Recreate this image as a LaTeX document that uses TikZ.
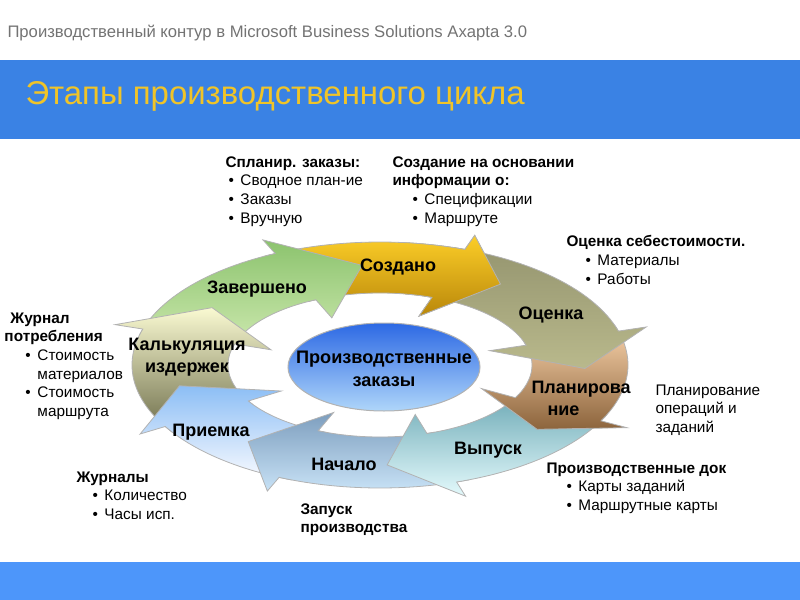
\documentclass[tikz,border=0pt]{standalone}
\usepackage{fontspec}
\setmainfont{Liberation Sans}

\definecolor{bandtop}{RGB}{58,130,228}
\definecolor{bandbot}{RGB}{77,150,250}
\definecolor{headgray}{RGB}{115,115,115}
\definecolor{titlegold}{RGB}{240,196,40}
\definecolor{rimgray}{RGB}{178,178,178}
\definecolor{zavtop}{RGB}{140,195,110}
\definecolor{zavbot}{RGB}{205,233,175}
\definecolor{sozdtop}{RGB}{252,206,40}
\definecolor{sozdbot}{RGB}{185,135,10}
\definecolor{ocentop}{RGB}{150,150,112}
\definecolor{ocenmid}{RGB}{246,246,214}
\definecolor{ocenbot}{RGB}{185,185,140}
\definecolor{plantop}{RGB}{250,212,172}
\definecolor{planbot}{RGB}{140,100,60}
\definecolor{vyptop}{RGB}{110,170,182}
\definecolor{vypbot}{RGB}{228,250,252}
\definecolor{nachtop}{RGB}{125,158,190}
\definecolor{nachbot}{RGB}{200,226,246}
\definecolor{priemtop}{RGB}{140,190,245}
\definecolor{priembot}{RGB}{248,250,255}
\definecolor{kalktop}{RGB}{250,250,210}
\definecolor{kalkbot}{RGB}{110,110,75}
\definecolor{ordtop}{RGB}{45,105,228}
\definecolor{ordbot}{RGB}{175,214,250}

\tikzset{every picture/.style={line width=0.75pt}}

% one curved arrow of the ring: tail angle, head base angle, tip angle, shading
% ring centre (380,365), inner ellipse 152 x 72, outer ellipse 248 x 123
\newcommand{\swoosh}[4]{%
  \shadedraw[draw=rimgray,line width=0.6pt,#4]
    plot[domain=#1:#2,samples=30,variable=\t] ({380+248*cos(\t)},{365-123*sin(\t)})
    -- ({380+277*cos(#2)},{365-138*sin(#2)})
    -- ({380+205*cos(#3)},{365-100*sin(#3)})
    -- ({380+114*cos(#2)},{365-52*sin(#2)})
    -- plot[domain=#2:#1,samples=30,variable=\t] ({380+152*cos(\t)},{365-72*sin(\t)})
    -- cycle;}
% bullet item with indent
\newcommand{\itm}[2]{\hspace*{#1}\makebox[9pt][l]{•}#2}

\begin{document}
\begin{tikzpicture}[x=0.75pt,y=0.75pt,yscale=-1,xscale=1,
  seglbl/.style={font=\fontsize{13.5pt}{16.5pt}\selectfont\bfseries,align=center,inner sep=0pt},
  ordlbl/.style={font=\fontsize{13.6pt}{17pt}\selectfont\bfseries,align=center,inner sep=0pt},
  sidetxt/.style={font=\fontsize{11.5pt}{14pt}\selectfont,align=left,anchor=north west,inner sep=0pt}]
\useasboundingbox (0,0) rectangle (800,600);

%Shape: Rectangle [title band]
\fill[bandtop] (0,60) rectangle (800,139);
%Shape: Rectangle [bottom band]
\fill[bandbot] (0,562) rectangle (800,600);

% Text Node
\node[anchor=west,inner sep=0pt,font=\fontsize{12.5pt}{14pt}\selectfont,text=headgray] (subject) at (7,33) {Производственный контур в Microsoft Business Solutions Axapta 3.0};
% Text Node
\node[anchor=west,inner sep=0pt,font=\fontsize{24.7pt}{28pt}\selectfont,text=titlegold] (title) at (25,96) {Этапы производственного цикла};

%Shape: ring of arrows (each head lies over the tail of the next one)
\swoosh{118}{70}{54}{top color=sozdtop,bottom color=sozdbot}
\swoosh{166}{115}{95}{top color=zavtop,bottom color=zavbot}
\swoosh{213}{163}{145}{top color=kalktop,bottom color=kalkbot}
\swoosh{-111}{-150}{-168}{top color=priemtop,bottom color=priembot}
\swoosh{-69}{-114}{-130}{top color=nachtop,bottom color=nachbot}
\swoosh{-24}{-72}{-88}{top color=vyptop,bottom color=vypbot}
\swoosh{19}{-27}{-40}{top color=plantop,bottom color=planbot}
\swoosh{73}{16}{-2}{top color=ocentop,middle color=ocenmid,bottom color=ocenbot}
% head of the gold arrow again, over the tail of the next one
\begin{scope}
\clip (405,200) rectangle (545,335);
\swoosh{118}{70}{54}{top color=sozdtop,bottom color=sozdbot}
\end{scope}

%Shape: Ellipse [centre]
\shadedraw[draw=rimgray,top color=ordtop,bottom color=ordbot] (384,367) ellipse [x radius=96,y radius=44];

% Text Node
\node[ordlbl] (orders) at (384,369) {Производственные\\заказы};
% Text Node
\node[seglbl] (zav) at (257,289) {Завершено};
% Text Node
\node[seglbl] (sozd) at (398,267) {Создано};
% Text Node
\node[seglbl] (ocen) at (551,315) {Оценка};
% Text Node
\node[seglbl,align=left,anchor=west] (plan) at (531,398) {Планирова\\\hspace*{12pt}ние};
% Text Node
\node[seglbl] (vyp) at (488,450) {Выпуск};
% Text Node
\node[seglbl] (nach) at (344,464) {Начало};
% Text Node
\node[seglbl] (priem) at (211,432) {Приемка};
% Text Node
\node[seglbl] (kalk) at (187,357) {Калькуляция\\издержек};

% Text Node
\node[sidetxt] (splan) at (225,156) {\textbf{Спланир. заказы:}\\\itm{2.25pt}{Сводное план-ие}\\\itm{2.25pt}{Заказы}\\\itm{2.25pt}{Вручную}};
% Text Node
\node[sidetxt] (basis) at (392,156) {\textbf{Создание на основании}\\\textbf{информации о:}\\\itm{15pt}{Спецификации}\\\itm{15pt}{Маршруте}};
% Text Node
\node[sidetxt] (costs) at (566,235) {\textbf{Оценка себестоимости.}\\\itm{14.25pt}{Материалы}\\\itm{14.25pt}{Работы}};
% Text Node
\node[sidetxt] (consum) at (4,312) {\hspace*{4.5pt}\textbf{Журнал}\\\textbf{потребления}\\\itm{15.75pt}{Стоимость}\\\hspace*{24.75pt}материалов\\\itm{15.75pt}{Стоимость}\\\hspace*{24.75pt}маршрута};
% Text Node
\node[sidetxt] (opers) at (655,384) {Планирование\\операций и\\заданий};
% Text Node
\node[sidetxt] (docs) at (546,462) {\textbf{Производственные док}\\\itm{15pt}{Карты заданий}\\\itm{15pt}{Маршрутные карты}};
% Text Node
\node[sidetxt] (journals) at (76,471) {\textbf{Журналы}\\\itm{12pt}{Количество}\\\itm{12pt}{Часы исп.}};
% Text Node
\node[sidetxt] (launch) at (300,503) {\textbf{Запуск}\\\textbf{производства}};

\end{tikzpicture}
\end{document}
